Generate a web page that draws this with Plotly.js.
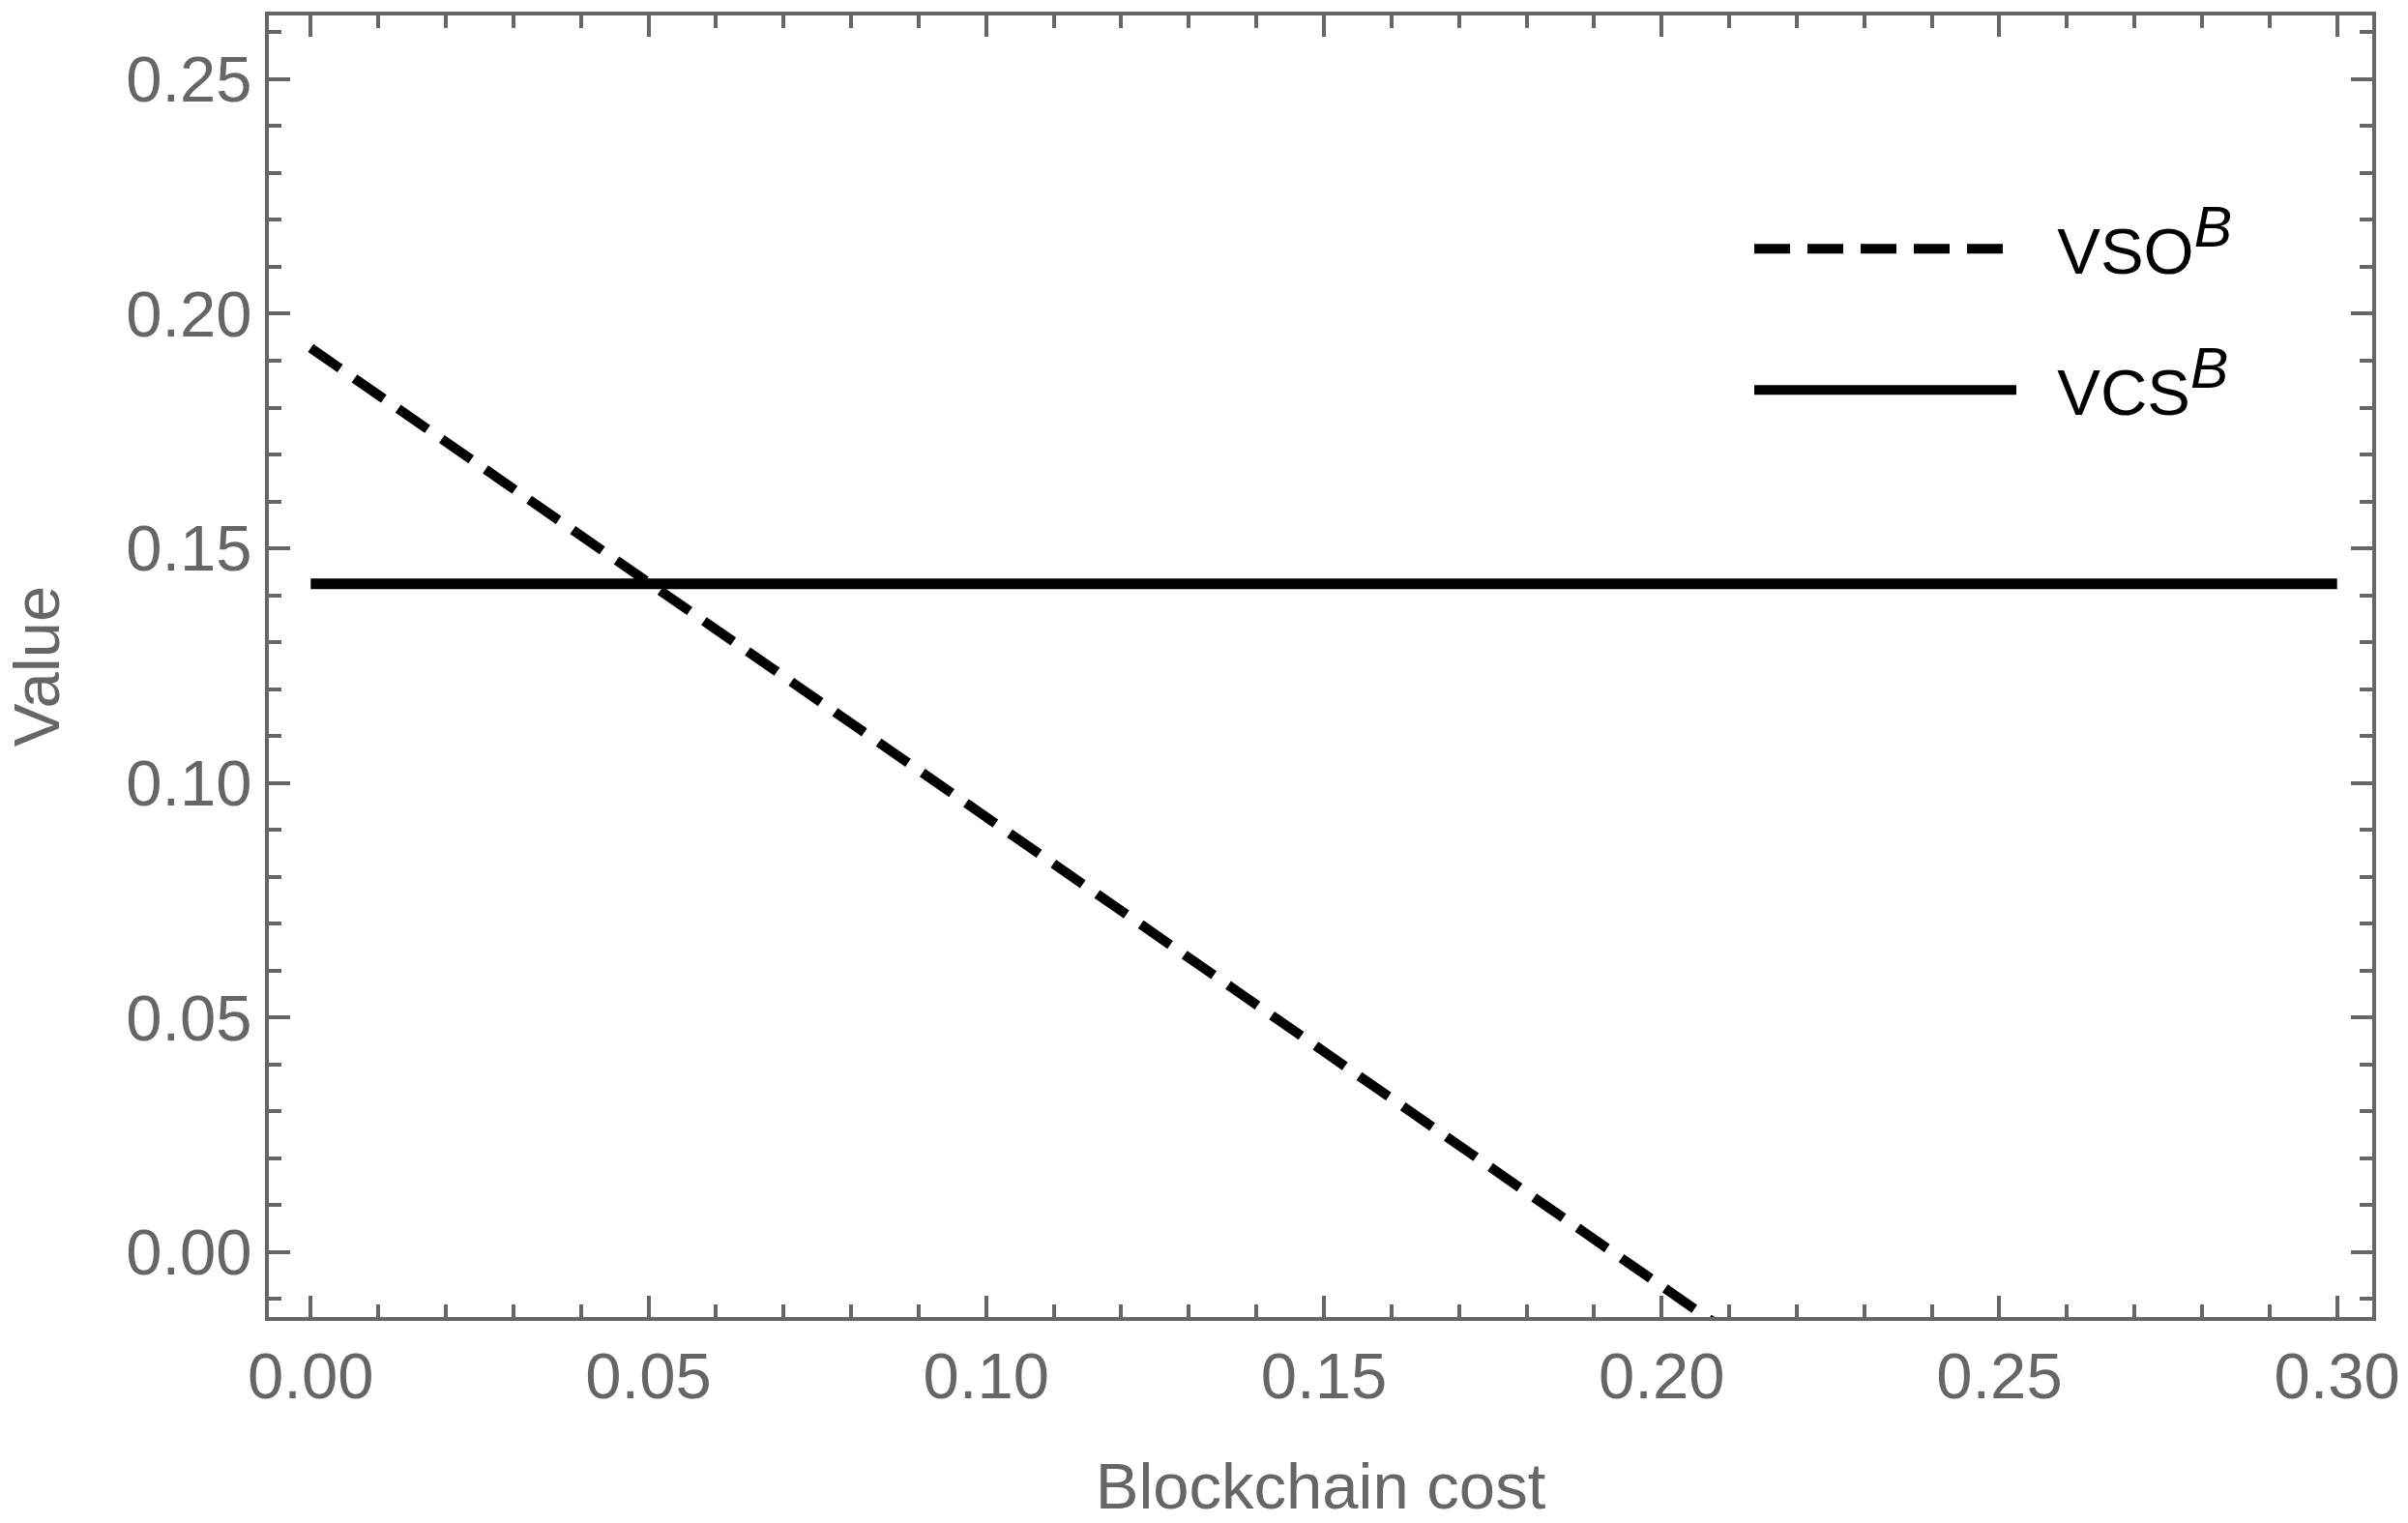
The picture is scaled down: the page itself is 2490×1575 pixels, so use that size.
<!DOCTYPE html>
<html>
<head>
<meta charset="utf-8">
<script src="https://cdn.plot.ly/plotly-3.0.1.min.js"></script>
<style>
  html, body { margin: 0; padding: 0; background: #fff; }
  #plot { width: 2490px; height: 1575px; }
</style>
</head>
<body>
<div id="plot"></div>
<script>
// data
const costX = [0, 0.30];
const vcsY = [0.1424, 0.1424];
const vsoX = [0, 0.21];
const vsoY = [0.1927, -0.0173];
const tickVals = [0, 0.05, 0.10, 0.15, 0.20, 0.25, 0.30];
const tickText = ['0.00', '0.05', '0.10', '0.15', '0.20', '0.25', '0.30'];

const grey = '#666666';
const fontFam = 'Liberation Sans, Arial, sans-serif';
const gap = '\u00a0\u00a0'; // space between legend key and label
const supB = '<sup><span style="font-size:59px"><i>B</i></span></sup>';

const traces = [
  {
    x: vsoX, y: vsoY, type: 'scatter', mode: 'lines',
    name: gap + 'VSO' + supB, legendgroup: 'a',
    line: {color: 'black', width: 10, dash: '37px,18px'}
  },
  {
    x: costX, y: vcsY, type: 'scatter', mode: 'lines',
    name: gap + 'VCS' + supB, legendgroup: 'b',
    line: {color: 'black', width: 11}
  }
];

// common frame settings (Mathematica style frame, ticks inside)
function frameAxis(extra) {
  return Object.assign({
    showline: true, linecolor: grey, linewidth: 4, mirror: 'allticks',
    ticks: 'inside', ticklen: 22, tickwidth: 4, tickcolor: grey,
    showgrid: false, zeroline: false,
    tickfont: {family: fontFam, size: 67, color: grey},
    minor: {ticks: 'inside', ticklen: 13, tickwidth: 4, tickcolor: grey, dtick: 0.01, showgrid: false}
  }, extra);
}

const layout = {
  width: 2490, height: 1575,
  margin: {l: 278, r: 37, t: 16, b: 213},
  paper_bgcolor: 'white', plot_bgcolor: 'white',
  font: {family: fontFam, color: grey},
  showlegend: true,
  legend: {
    x: 0.7039, y: 0.858, xanchor: 'left', yanchor: 'top',
    bgcolor: 'rgba(0,0,0,0)',
    font: {family: fontFam, size: 67, color: 'black'},
    itemwidth: 271, tracegroupgap: 56
  },
  xaxis: frameAxis({
    range: [-0.0062, 0.3052],
    tickvals: tickVals, ticktext: tickText,
    title: {text: 'Blockchain cost', font: {family: fontFam, size: 67, color: grey}, standoff: 55}
  }),
  yaxis: frameAxis({
    range: [-0.0139, 0.2636],
    tickvals: tickVals.slice(0, 6), ticktext: tickText.slice(0, 6),
    title: {text: 'Value', font: {family: fontFam, size: 67, color: grey}, standoff: 55}
  })
};

Plotly.newPlot('plot', traces, layout, {staticPlot: true});
</script>
</body>
</html>
